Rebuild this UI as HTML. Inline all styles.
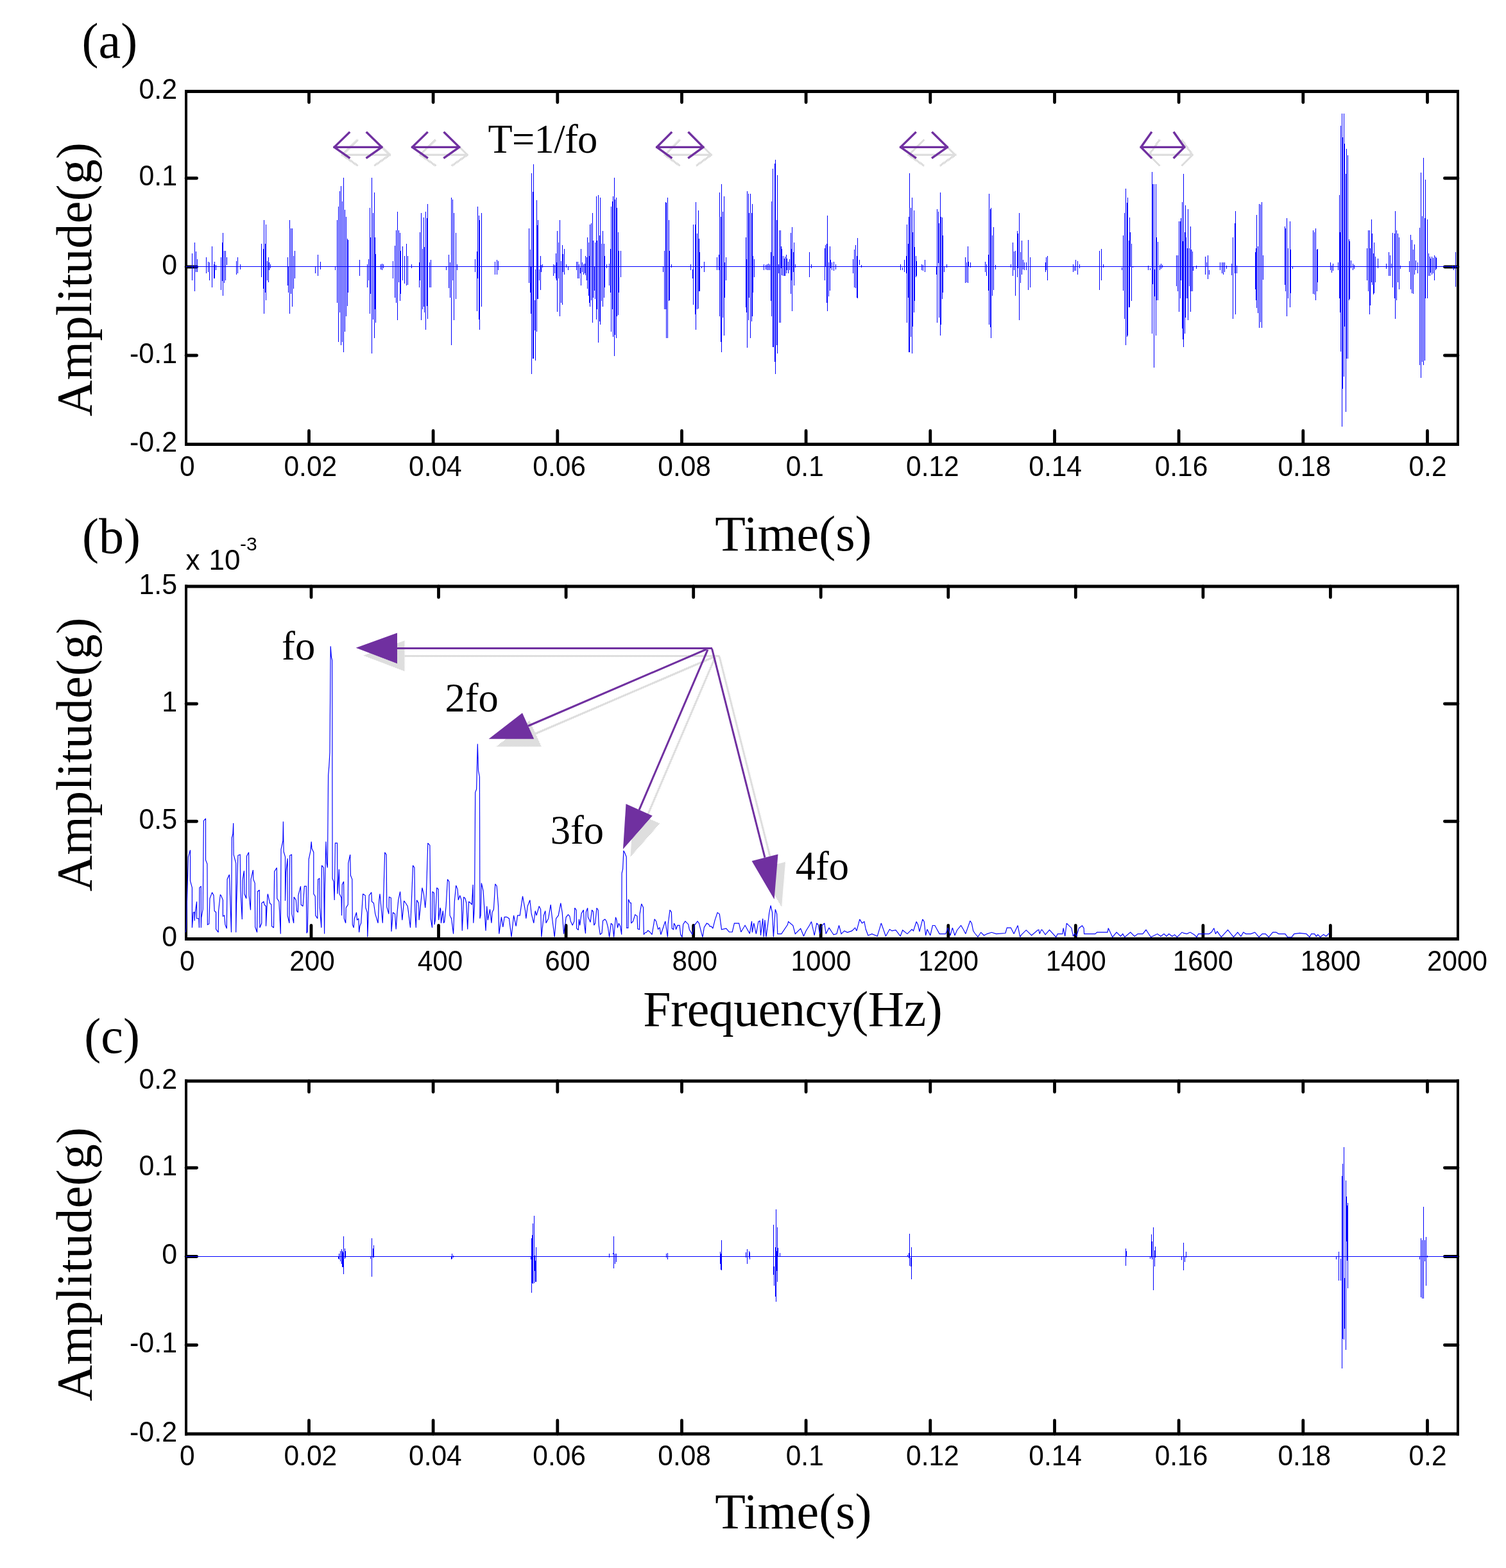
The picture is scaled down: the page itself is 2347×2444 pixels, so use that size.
<!DOCTYPE html>
<html><head><meta charset="utf-8"><title>Figure</title><style>html,body{margin:0;padding:0;background:#fff;overflow:hidden}svg{display:block}</style></head><body>
<svg width="2347" height="2444" viewBox="0 0 2347 2444">
<rect width="2347" height="2444" fill="#fff"/>
<defs><pattern id="ck" width="2" height="2" patternUnits="userSpaceOnUse"><rect width="1" height="1" fill="#bdbdbd"/><rect x="1" y="1" width="1" height="1" fill="#bdbdbd"/></pattern></defs>
<style>.tl{font-family:'Liberation Sans',Arial,sans-serif;font-size:44px;fill:#000} .ti{font-family:'Liberation Serif','Times New Roman',serif;font-size:78px;fill:#000} .an{font-family:'Liberation Serif','Times New Roman',serif;font-size:62.5px;fill:#000}</style>
<rect x="288" y="140.0" width="1986" height="5" fill="#000"/><rect x="288" y="690.0" width="1986" height="5" fill="#000"/><rect x="288" y="140.0" width="4" height="555.0" fill="#000"/><rect x="2270" y="140.0" width="4" height="555.0" fill="#000"/>
<rect x="288" y="911.5" width="1986" height="5" fill="#000"/><rect x="288" y="1461.0" width="1986" height="5" fill="#000"/><rect x="288" y="911.5" width="4" height="554.5" fill="#000"/><rect x="2270" y="911.5" width="4" height="554.5" fill="#000"/>
<rect x="288" y="1682.5" width="1986" height="5" fill="#000"/><rect x="288" y="2232.5" width="1986" height="5" fill="#000"/><rect x="288" y="1682.5" width="4" height="555.0" fill="#000"/><rect x="2270" y="1682.5" width="4" height="555.0" fill="#000"/>
<text class="tl" transform="translate(279.94,742.2) scale(0.965,1)">0</text>
<path d="M481.5,692.5V671.5M481.5,142.5V159.6" stroke="#000" stroke-width="4.8" stroke-linecap="round" fill="none"/>
<text class="tl" transform="translate(442.50,742.2) scale(0.965,1)">0.02</text>
<path d="M675.1,692.5V671.5M675.1,142.5V159.6" stroke="#000" stroke-width="4.8" stroke-linecap="round" fill="none"/>
<text class="tl" transform="translate(637.10,742.2) scale(0.965,1)">0.04</text>
<path d="M868.8,692.5V671.5M868.8,142.5V159.6" stroke="#000" stroke-width="4.8" stroke-linecap="round" fill="none"/>
<text class="tl" transform="translate(830.33,742.2) scale(0.965,1)">0.06</text>
<path d="M1062.5,692.5V671.5M1062.5,142.5V159.6" stroke="#000" stroke-width="4.8" stroke-linecap="round" fill="none"/>
<text class="tl" transform="translate(1025.31,742.2) scale(0.965,1)">0.08</text>
<path d="M1256.1,692.5V671.5M1256.1,142.5V159.6" stroke="#000" stroke-width="4.8" stroke-linecap="round" fill="none"/>
<text class="tl" transform="translate(1224.74,742.2) scale(0.965,1)">0.1</text>
<path d="M1449.8,692.5V671.5M1449.8,142.5V159.6" stroke="#000" stroke-width="4.8" stroke-linecap="round" fill="none"/>
<text class="tl" transform="translate(1412.10,742.2) scale(0.965,1)">0.12</text>
<path d="M1643.5,692.5V671.5M1643.5,142.5V159.6" stroke="#000" stroke-width="4.8" stroke-linecap="round" fill="none"/>
<text class="tl" transform="translate(1603.30,742.2) scale(0.965,1)">0.14</text>
<path d="M1837.1,692.5V671.5M1837.1,142.5V159.6" stroke="#000" stroke-width="4.8" stroke-linecap="round" fill="none"/>
<text class="tl" transform="translate(1799.63,742.2) scale(0.965,1)">0.16</text>
<path d="M2030.8,692.5V671.5M2030.8,142.5V159.6" stroke="#000" stroke-width="4.8" stroke-linecap="round" fill="none"/>
<text class="tl" transform="translate(1991.41,742.2) scale(0.965,1)">0.18</text>
<path d="M2224.5,692.5V671.5M2224.5,142.5V159.6" stroke="#000" stroke-width="4.8" stroke-linecap="round" fill="none"/>
<text class="tl" transform="translate(2195.51,742.2) scale(0.965,1)">0.2</text>
<text class="tl" transform="translate(276.0,154.2) scale(0.975,1)" text-anchor="end">0.2</text>
<path d="M290,277.75H306.6M2272,277.75H2251.4" stroke="#000" stroke-width="4.8" stroke-linecap="round" fill="none"/>
<text class="tl" transform="translate(276.0,289.4) scale(0.975,1)" text-anchor="end">0.1</text>
<path d="M290,416.00H306.6M2272,416.00H2251.4" stroke="#000" stroke-width="4.8" stroke-linecap="round" fill="none"/>
<text class="tl" transform="translate(276.0,427.7) scale(0.975,1)" text-anchor="end">0</text>
<path d="M290,554.00H306.6M2272,554.00H2251.4" stroke="#000" stroke-width="4.8" stroke-linecap="round" fill="none"/>
<text class="tl" transform="translate(276.0,565.7) scale(0.975,1)" text-anchor="end">-0.1</text>
<text class="tl" transform="translate(276.0,704.2) scale(0.975,1)" text-anchor="end">-0.2</text>
<text class="tl" transform="translate(279.94,2283.8) scale(0.965,1)">0</text>
<path d="M481.5,2235.0V2214.0M481.5,1685.0V1702.1" stroke="#000" stroke-width="4.8" stroke-linecap="round" fill="none"/>
<text class="tl" transform="translate(442.50,2283.8) scale(0.965,1)">0.02</text>
<path d="M675.1,2235.0V2214.0M675.1,1685.0V1702.1" stroke="#000" stroke-width="4.8" stroke-linecap="round" fill="none"/>
<text class="tl" transform="translate(637.10,2283.8) scale(0.965,1)">0.04</text>
<path d="M868.8,2235.0V2214.0M868.8,1685.0V1702.1" stroke="#000" stroke-width="4.8" stroke-linecap="round" fill="none"/>
<text class="tl" transform="translate(830.33,2283.8) scale(0.965,1)">0.06</text>
<path d="M1062.5,2235.0V2214.0M1062.5,1685.0V1702.1" stroke="#000" stroke-width="4.8" stroke-linecap="round" fill="none"/>
<text class="tl" transform="translate(1025.31,2283.8) scale(0.965,1)">0.08</text>
<path d="M1256.1,2235.0V2214.0M1256.1,1685.0V1702.1" stroke="#000" stroke-width="4.8" stroke-linecap="round" fill="none"/>
<text class="tl" transform="translate(1224.74,2283.8) scale(0.965,1)">0.1</text>
<path d="M1449.8,2235.0V2214.0M1449.8,1685.0V1702.1" stroke="#000" stroke-width="4.8" stroke-linecap="round" fill="none"/>
<text class="tl" transform="translate(1412.10,2283.8) scale(0.965,1)">0.12</text>
<path d="M1643.5,2235.0V2214.0M1643.5,1685.0V1702.1" stroke="#000" stroke-width="4.8" stroke-linecap="round" fill="none"/>
<text class="tl" transform="translate(1603.30,2283.8) scale(0.965,1)">0.14</text>
<path d="M1837.1,2235.0V2214.0M1837.1,1685.0V1702.1" stroke="#000" stroke-width="4.8" stroke-linecap="round" fill="none"/>
<text class="tl" transform="translate(1799.63,2283.8) scale(0.965,1)">0.16</text>
<path d="M2030.8,2235.0V2214.0M2030.8,1685.0V1702.1" stroke="#000" stroke-width="4.8" stroke-linecap="round" fill="none"/>
<text class="tl" transform="translate(1991.41,2283.8) scale(0.965,1)">0.18</text>
<path d="M2224.5,2235.0V2214.0M2224.5,1685.0V1702.1" stroke="#000" stroke-width="4.8" stroke-linecap="round" fill="none"/>
<text class="tl" transform="translate(2195.51,2283.8) scale(0.965,1)">0.2</text>
<text class="tl" transform="translate(276.0,1696.7) scale(0.975,1)" text-anchor="end">0.2</text>
<path d="M290,1820.25H306.6M2272,1820.25H2251.4" stroke="#000" stroke-width="4.8" stroke-linecap="round" fill="none"/>
<text class="tl" transform="translate(276.0,1832.0) scale(0.975,1)" text-anchor="end">0.1</text>
<path d="M290,1958.50H306.6M2272,1958.50H2251.4" stroke="#000" stroke-width="4.8" stroke-linecap="round" fill="none"/>
<text class="tl" transform="translate(276.0,1970.2) scale(0.975,1)" text-anchor="end">0</text>
<path d="M290,2096.50H306.6M2272,2096.50H2251.4" stroke="#000" stroke-width="4.8" stroke-linecap="round" fill="none"/>
<text class="tl" transform="translate(276.0,2108.2) scale(0.975,1)" text-anchor="end">-0.1</text>
<text class="tl" transform="translate(276.0,2246.7) scale(0.975,1)" text-anchor="end">-0.2</text>
<text class="tl" transform="translate(280.06,1513) scale(0.96,1)">0</text>
<path d="M485.0,1463.5V1442.5M485.0,914.0V931.1" stroke="#000" stroke-width="4.8" stroke-linecap="round" fill="none"/>
<text class="tl" transform="translate(451.37,1513) scale(0.96,1)">200</text>
<path d="M683.5,1463.5V1442.5M683.5,914.0V931.1" stroke="#000" stroke-width="4.8" stroke-linecap="round" fill="none"/>
<text class="tl" transform="translate(650.67,1513) scale(0.96,1)">400</text>
<path d="M882.1,1463.5V1442.5M882.1,914.0V931.1" stroke="#000" stroke-width="4.8" stroke-linecap="round" fill="none"/>
<text class="tl" transform="translate(849.17,1513) scale(0.96,1)">600</text>
<path d="M1080.7,1463.5V1442.5M1080.7,914.0V931.1" stroke="#000" stroke-width="4.8" stroke-linecap="round" fill="none"/>
<text class="tl" transform="translate(1047.47,1513) scale(0.96,1)">800</text>
<path d="M1279.2,1463.5V1442.5M1279.2,914.0V931.1" stroke="#000" stroke-width="4.8" stroke-linecap="round" fill="none"/>
<text class="tl" transform="translate(1232.58,1513) scale(0.96,1)">1000</text>
<path d="M1477.8,1463.5V1442.5M1477.8,914.0V931.1" stroke="#000" stroke-width="4.8" stroke-linecap="round" fill="none"/>
<text class="tl" transform="translate(1431.08,1513) scale(0.96,1)">1200</text>
<path d="M1676.3,1463.5V1442.5M1676.3,914.0V931.1" stroke="#000" stroke-width="4.8" stroke-linecap="round" fill="none"/>
<text class="tl" transform="translate(1629.78,1513) scale(0.96,1)">1400</text>
<path d="M1874.9,1463.5V1442.5M1874.9,914.0V931.1" stroke="#000" stroke-width="4.8" stroke-linecap="round" fill="none"/>
<text class="tl" transform="translate(1827.78,1513) scale(0.96,1)">1600</text>
<path d="M2073.4,1463.5V1442.5M2073.4,914.0V931.1" stroke="#000" stroke-width="4.8" stroke-linecap="round" fill="none"/>
<text class="tl" transform="translate(2026.68,1513) scale(0.96,1)">1800</text>
<text class="tl" transform="translate(2223.98,1513) scale(0.96,1)">2000</text>
<text class="tl" transform="translate(276.0,925.5) scale(0.975,1)" text-anchor="end">1.5</text>
<path d="M290,1097.00H306.6M2272,1097.00H2251.4" stroke="#000" stroke-width="4.8" stroke-linecap="round" fill="none"/>
<text class="tl" transform="translate(276.0,1108.7) scale(0.975,1)" text-anchor="end">1</text>
<path d="M290,1280.25H306.6M2272,1280.25H2251.4" stroke="#000" stroke-width="4.8" stroke-linecap="round" fill="none"/>
<text class="tl" transform="translate(276.0,1292.0) scale(0.975,1)" text-anchor="end">0.5</text>
<text class="tl" transform="translate(276.0,1475.2) scale(0.975,1)" text-anchor="end">0</text>
<text class="tl" x="289.5" y="887.6">x</text><text class="tl" x="325.5" y="887.6">10</text>
<text style="font-family:'Liberation Sans',Arial,sans-serif;font-size:30px" x="373.9" y="858.2">-3</text>
<path d="M290.0,415.5H2272.0M299.5,395V437M303.5,378V454M305.5,392V424M307.5,404V424M321.5,401V426M324.5,408V424M326.5,409V437M330.5,384V448M333.5,412V434M334.5,408V434M336.5,413V421M344.5,401V452M346.5,378V438M347.5,363V461M349.5,391V441M351.5,391V437M353.5,401V413M368.5,407V428M370.5,401V426M374.5,412V420M407.5,380V432M410.5,388V450M411.5,343V489M413.5,380V456M414.5,350V468M416.5,407V437M418.5,401V440M419.5,409V421M421.5,412V418M448.5,401V445M449.5,415V456M451.5,343V489M453.5,356V458M455.5,356V478M457.5,399V450M459.5,391V434M491.5,415V426M495.5,397V430M499.5,408V420M522.5,415V421M525.5,343V472M527.5,322V533M529.5,298V487M531.5,290V538M533.5,314V533M535.5,277V549M537.5,327V517M539.5,338V493M541.5,372V477M542.5,374V456M560.5,405V430M572.5,412V448M574.5,404V437M576.5,324V489M577.5,370V458M579.5,277V551M581.5,332V498M583.5,300V527M584.5,370V482M585.5,396V503M593.5,412V420M595.5,411V421M597.5,412V418M612.5,407V434M615.5,383V464M617.5,359V472M619.5,330V499M621.5,359V440M623.5,363V469M624.5,391V458M627.5,384V437M630.5,399V442M633.5,380V445M635.5,399V444M641.5,412V418M653.5,409V448M654.5,362V437M656.5,332V499M658.5,388V482M660.5,339V478M661.5,385V487M663.5,330V514M665.5,340V477M666.5,318V497M669.5,409V448M671.5,405V448M695.5,415V421M699.5,397V449M701.5,409V464M703.5,308V538M705.5,311V437M707.5,332V499M710.5,363V466M712.5,412V421M740.5,404V424M743.5,392V485M744.5,322V434M746.5,336V498M747.5,343V514M750.5,332V478M771.5,408V428M774.5,405V428M776.5,407V421M824.5,356V441M826.5,389V456M827.5,415V489M828.5,270V583M830.5,299V559M831.5,256V559M833.5,468V515M834.5,420V562M836.5,312V517M837.5,351V466M838.5,343V466M840.5,420V437M842.5,399V452M843.5,413V424M845.5,412V417M862.5,412V430M864.5,413V426M866.5,395V434M867.5,409V437M868.5,360V486M870.5,378V434M872.5,343V493M874.5,407V472M876.5,382V475M877.5,396V424M879.5,388V428M882.5,412V417M885.5,415V421M898.5,408V421M900.5,408V434M902.5,412V434M904.5,417V426M905.5,388V445M907.5,409V424M909.5,412V428M911.5,411V426M912.5,399V429M914.5,401V437M915.5,370V450M917.5,378V461M918.5,399V472M919.5,350V478M921.5,348V468M923.5,332V503M924.5,375V464M926.5,415V453M927.5,378V466M929.5,306V498M930.5,375V482M932.5,304V534M934.5,367V501M935.5,308V506M937.5,380V469M939.5,360V478M941.5,380V464M942.5,399V448M945.5,412V418M949.5,411V445M951.5,388V456M952.5,322V517M954.5,314V482M955.5,306V525M957.5,277V555M958.5,311V522M960.5,308V527M961.5,324V493M963.5,362V491M964.5,391V456M967.5,391V432M1033.5,415V424M1035.5,391V482M1037.5,315V482M1038.5,316V527M1040.5,308V527M1042.5,343V469M1043.5,391V468M1046.5,412V417M1076.5,412V421M1079.5,420V434M1080.5,350V475M1083.5,350V490M1084.5,315V514M1086.5,364V482M1088.5,328V481M1089.5,372V454M1090.5,393V454M1093.5,415V418M1097.5,408V424M1117.5,401V421M1120.5,397V421M1121.5,300V493M1123.5,338V533M1124.5,287V549M1126.5,330V495M1128.5,306V523M1129.5,409V464M1131.5,401V437M1162.5,370V479M1163.5,404V487M1164.5,298V542M1166.5,302V499M1167.5,332V464M1169.5,302V527M1171.5,332V501M1172.5,318V493M1173.5,399V456M1175.5,404V432M1190.5,412V421M1193.5,413V420M1195.5,412V421M1197.5,411V421M1199.5,412V421M1201.5,393V469M1202.5,314V493M1204.5,263V541M1205.5,399V541M1207.5,255V564M1208.5,249V583M1210.5,343V538M1211.5,273V551M1213.5,412V426M1214.5,359V503M1216.5,359V503M1217.5,384V418M1218.5,388V429M1220.5,399V430M1222.5,403V430M1223.5,400V430M1225.5,397V426M1226.5,403V421M1228.5,408V426M1230.5,404V421M1232.5,363V458M1233.5,388V437M1234.5,354V485M1236.5,393V424M1237.5,378V445M1239.5,412V417M1261.5,393V432M1264.5,412V418M1285.5,387V437M1286.5,382V416M1288.5,380V472M1289.5,336V485M1291.5,409V462M1293.5,384V453M1294.5,405V418M1296.5,409V421M1299.5,408V422M1302.5,412V420M1329.5,404V426M1331.5,389V448M1333.5,382V449M1335.5,399V464M1336.5,371V465M1339.5,405V413M1342.5,413V417M1403.5,412V421M1406.5,417V421M1409.5,405V424M1412.5,399V426M1413.5,350V503M1415.5,380V464M1416.5,338V549M1417.5,270V549M1419.5,324V525M1421.5,308V551M1422.5,362V509M1424.5,328V487M1425.5,385V469M1427.5,399V432M1428.5,407V430M1436.5,412V421M1438.5,413V422M1441.5,405V424M1459.5,415V428M1460.5,326V503M1462.5,330V410M1463.5,348V495M1465.5,300V523M1466.5,338V506M1468.5,339V466M1469.5,367V456M1471.5,415V424M1475.5,412V417M1504.5,401V441M1506.5,409V440M1508.5,384V441M1509.5,408V416M1512.5,409V417M1535.5,408V424M1537.5,412V430M1540.5,397V453M1541.5,302V506M1543.5,326V510M1544.5,324V527M1546.5,367V461M1548.5,354V452M1551.5,413V420M1575.5,412V417M1578.5,378V430M1580.5,392V421M1582.5,391V461M1585.5,360V432M1586.5,364V418M1588.5,332V499M1590.5,393V441M1592.5,375V428M1594.5,405V420M1596.5,409V421M1599.5,409V421M1602.5,374V452M1605.5,401V448M1629.5,409V424M1630.5,401V421M1632.5,399V437M1672.5,412V424M1674.5,416V422M1676.5,405V422M1679.5,407V428M1682.5,412V418M1713.5,391V452M1716.5,388V437M1719.5,412V417M1748.5,417V421M1750.5,367V453M1752.5,332V497M1754.5,294V538M1756.5,316V525M1757.5,308V523M1759.5,375V479M1760.5,339V479M1761.5,362V416M1763.5,380V469M1765.5,415V417M1789.5,414V421M1792.5,418V421M1795.5,268V520M1796.5,287V443M1798.5,287V573M1799.5,420V462M1801.5,287V523M1802.5,370V468M1804.5,377V468M1807.5,413V421M1809.5,411V419M1811.5,413V417M1833.5,398V446M1835.5,398V454M1837.5,345V486M1839.5,345V465M1840.5,340V437M1842.5,315V512M1843.5,376V529M1844.5,271V541M1846.5,362V520M1847.5,320V495M1848.5,370V465M1850.5,387V465M1851.5,326V499M1853.5,387V446M1855.5,353V486M1856.5,389V454M1858.5,392V454M1859.5,416V422M1864.5,414V419M1878.5,400V428M1880.5,409V415M1882.5,398V435M1884.5,421V428M1901.5,409V421M1904.5,409V426M1906.5,409V428M1908.5,409V424M1911.5,414V419M1919.5,411V429M1921.5,370V497M1924.5,348V426M1925.5,329V490M1927.5,414V426M1956.5,393V451M1957.5,387V468M1958.5,335V480M1960.5,384V488M1962.5,318V511M1964.5,319V502M1966.5,315V511M1968.5,398V436M2002.5,353V444M2003.5,356V454M2005.5,340V493M2007.5,387V465M2010.5,345V479M2011.5,389V457M2014.5,416V419M2046.5,359V458M2048.5,362V459M2050.5,356V468M2052.5,389V454M2053.5,388V440M2073.5,409V421M2075.5,414V425M2077.5,411V422M2085.5,409V421M2087.5,304V465M2088.5,362V487M2089.5,196V548M2091.5,177V665M2092.5,214V606M2094.5,177V587M2095.5,224V509M2097.5,271V642M2098.5,232V559M2100.5,242V559M2102.5,373V468M2103.5,376V466M2105.5,406V418M2108.5,411V421M2110.5,413V419M2130.5,387V437M2132.5,359V454M2134.5,359V490M2135.5,387V476M2137.5,342V440M2138.5,364V444M2140.5,395V459M2141.5,378V457M2143.5,400V440M2147.5,403V418M2160.5,411V419M2164.5,393V430M2166.5,398V430M2168.5,411V418M2170.5,363V448M2173.5,364V465M2174.5,329V497M2176.5,359V468M2178.5,364V440M2180.5,370V451M2182.5,414V419M2196.5,407V424M2198.5,366V451M2200.5,374V457M2202.5,389V458M2204.5,381V428M2206.5,406V421M2209.5,409V426M2212.5,355V569M2214.5,269V589M2216.5,337V564M2218.5,246V569M2220.5,340V562M2221.5,280V465M2224.5,342V465M2226.5,395V430M2228.5,400V430M2229.5,403V425M2231.5,400V428M2233.5,402V426M2235.5,398V437M2237.5,400V421M2238.5,402V419M2263.5,414V418M2265.5,416V421M2268.5,393V447" fill="none" stroke="#0000ff" stroke-width="1" stroke-linejoin="miter" stroke-miterlimit="2" shape-rendering="crispEdges"/>
<path d="M290.0,1958.5H2272.0M527.5,1959V1962M528.5,1954V1963M530.5,1950V1966M532.5,1947V1970M533.5,1950V1975M534.5,1952V1975M535.5,1927V1986M537.5,1946V1962M538.5,1950V1960M577.5,1959V1962M579.5,1959V1963M579.5,1930V1990M581.5,1946V1960M582.5,1941V1960M703.5,1959V1963M704.5,1954V1962M706.5,1957V1960M827.5,1959V1963M828.5,1930V2015M829.5,1925V2000M830.5,1907V2001M832.5,1895V2000M833.5,1957V1981M834.5,1965V1998M835.5,1944V1998M949.5,1954V1960M955.5,1953V1955M956.5,1927V1977M958.5,1954V1970M960.5,1954V1967M1038.5,1954V1960M1040.5,1953V1963M1122.5,1951V1970M1123.5,1954V1979M1124.5,1933V1980M1162.5,1952V1960M1164.5,1947V1970M1167.5,1950V1960M1168.5,1952V1963M1205.5,1909V1987M1206.5,1974V2004M1208.5,1944V2021M1209.5,1885V2029M1210.5,1950V1981M1211.5,1913V1998M1212.5,1945V1958M1215.5,1953V1959M1414.5,1956V1959M1416.5,1953V1961M1417.5,1923V1973M1419.5,1960V1974M1420.5,1944V1994M1754.5,1946V1973M1755.5,1950V1959M1792.5,1958V1962M1794.5,1924V1960M1795.5,1935V1963M1797.5,1913V2011M1799.5,1949V1974M1800.5,1943V1960M1841.5,1958V1964M1844.5,1937V1980M1846.5,1959V1967M1848.5,1951V1960M2082.5,1958V1963M2086.5,1951V1996M2089.5,1962V1996M2091.5,1833V2133M2092.5,1814V2087M2094.5,1788V2088M2095.5,1992V2071M2097.5,1840V2104M2098.5,1865V1935M2099.5,1879V1965M2100.5,1875V2008M2212.5,1958V1963M2214.5,1930V2022M2216.5,1933V2024M2218.5,1881V2024M2220.5,1933V1966M2222.5,1928V2004M2224.5,1957V1960" fill="none" stroke="#0000ff" stroke-width="1" stroke-linejoin="miter" stroke-miterlimit="2" shape-rendering="crispEdges"/>
<path d="M289.3,1453.2L290.3,1446.0L293.4,1335.7L296.5,1324.9L296.5,1372.9L299.4,1383.7L299.4,1446.0L301.3,1422.1L303.2,1422.1L303.2,1435.3L304.2,1422.1L306.6,1405.3L306.6,1431.7L309.9,1431.7L310.4,1446.0L310.9,1383.7L313.3,1381.3L313.3,1446.0L313.8,1430.5L316.2,1417.3L317.4,1279.4L320.5,1275.8L320.5,1340.5L322.9,1346.5L323.4,1441.2L325.8,1440.0L327.0,1400.5L330.6,1390.9L333.0,1395.7L334.2,1419.7L336.6,1422.1L336.6,1448.4L340.2,1453.2L340.6,1419.7L343.3,1394.5L344.5,1395.7L347.4,1402.9L347.4,1428.1L349.7,1426.9L350.9,1441.2L353.3,1447.2L354.1,1370.5L357.4,1363.3L360.5,1453.2L361.3,1305.8L362.9,1299.8L363.7,1283.0L364.1,1332.1L367.7,1345.3L367.7,1453.2L368.5,1411.3L370.9,1333.3L374.2,1332.1L374.9,1388.5L377.3,1432.9L378.0,1371.7L380.4,1357.3L380.9,1393.3L383.8,1400.5L384.5,1334.5L387.6,1328.5L388.1,1395.7L390.5,1418.5L391.0,1370.5L394.4,1356.1L394.8,1370.5L397.2,1376.5L397.7,1444.8L400.6,1453.2L401.3,1389.7L404.2,1387.3L404.9,1446.0L407.8,1438.8L407.8,1407.7L410.9,1405.3L412.1,1410.1L414.5,1412.5L414.5,1443.6L416.9,1395.7L417.4,1393.3L420.5,1407.7L422.9,1410.1L423.6,1443.6L426.5,1446.0L427.7,1358.5L431.3,1352.5L431.8,1400.5L434.9,1405.3L437.3,1455.6L438.0,1323.7L440.9,1310.6L441.4,1280.6L442.1,1327.3L444.5,1335.7L444.5,1404.1L445.7,1359.7L448.1,1338.1L448.1,1426.9L450.9,1438.8L451.7,1333.3L454.5,1332.1L454.8,1424.5L457.7,1438.8L458.1,1398.1L461.3,1402.9L462.5,1419.7L464.4,1422.1L464.9,1395.7L468.5,1381.3L469.2,1410.1L472.1,1412.5L474.4,1381.3L477.3,1381.3L478.0,1454.4L479.2,1452.0L481.2,1339.3L484.0,1326.1L485.2,1311.8L486.0,1322.5L488.8,1328.5L488.8,1393.3L491.2,1396.9L491.7,1426.9L494.8,1431.7L495.6,1370.5L497.9,1369.3L498.4,1414.9L500.8,1446.0L501.5,1348.9L504.4,1352.5L505.6,1455.6L506.1,1393.3L508.0,1311.8L509.2,1345.3L510.4,1352.5L511.6,1208.6L512.8,1194.2L514.0,1172.7L515.2,1007.2L516.4,1024.0L517.6,1028.8L518.1,1369.3L520.0,1374.1L521.2,1402.9L522.4,1314.1L525.5,1314.1L526.0,1393.3L528.4,1354.9L529.1,1393.3L532.0,1399.3L532.5,1426.9L533.2,1378.9L535.6,1374.1L536.3,1431.7L538.7,1438.8L539.2,1414.9L542.3,1410.1L542.8,1345.3L545.7,1332.1L546.4,1364.5L548.8,1370.5L549.3,1441.2L551.2,1446.0L552.4,1431.7L555.5,1422.1L556.5,1434.1L558.9,1431.7L559.6,1453.2L560.8,1443.6L562.7,1438.8L565.6,1393.3L569.2,1395.7L569.9,1414.9L572.3,1422.1L572.8,1460.4L575.2,1395.7L578.8,1390.9L579.5,1405.3L582.4,1407.7L584.8,1424.5L589.1,1438.8L590.8,1402.9L592.0,1393.3L596.3,1438.8L598.0,1386.1L599.7,1328.5L602.1,1332.1L602.8,1413.7L605.9,1424.5L606.4,1398.1L609.3,1399.3L610.0,1452.0L612.4,1422.1L615.5,1424.5L617.2,1448.4L618.8,1424.5L620.8,1402.9L623.6,1389.7L624.4,1400.5L626.8,1434.1L629.6,1404.1L632.3,1407.7L635.2,1412.5L636.4,1420.9L639.5,1446.0L641.2,1407.7L643.5,1348.9L645.9,1352.5L646.7,1419.7L648.3,1446.0L649.5,1402.9L652.4,1407.7L653.1,1434.1L656.3,1402.9L657.9,1383.7L660.3,1393.3L662.7,1414.9L664.4,1393.3L666.8,1314.1L669.9,1317.7L671.1,1431.7L673.5,1446.0L674.0,1389.7L676.4,1392.1L677.1,1441.2L678.3,1434.1L680.7,1383.7L683.1,1386.1L683.6,1434.1L686.0,1414.9L686.7,1417.3L687.4,1438.8L690.3,1419.7L691.5,1438.8L692.7,1436.5L695.1,1412.5L697.5,1370.5L699.9,1374.1L701.1,1426.9L703.5,1431.7L706.6,1455.6L708.3,1405.3L710.7,1380.1L713.1,1386.1L714.3,1402.9L716.7,1395.7L719.1,1402.9L720.3,1450.8L722.7,1398.1L725.1,1400.5L726.8,1407.7L728.7,1448.4L730.6,1405.3L733.5,1407.7L735.4,1410.1L737.1,1378.9L737.8,1438.8L739.5,1412.5L740.7,1235.0L742.6,1230.2L744.3,1159.5L745.5,1201.4L747.4,1211.0L747.9,1431.7L749.1,1426.9L750.3,1376.5L753.1,1388.5L754.6,1412.5L757.0,1450.8L758.7,1412.5L760.3,1434.1L763.5,1417.3L765.9,1438.8L767.1,1422.1L769.4,1417.3L771.8,1377.7L774.2,1381.3L776.6,1412.5L777.8,1455.6L781.4,1429.3L783.8,1444.8L786.2,1429.3L789.8,1429.3L793.4,1431.7L797.0,1460.4L800.6,1426.9L804.2,1443.6L806.6,1426.9L810.2,1426.9L814.5,1396.9L816.9,1410.1L818.6,1419.7L819.8,1431.7L822.2,1412.5L825.8,1402.9L828.2,1424.5L831.8,1438.8L834.2,1419.7L836.1,1426.9L840.2,1412.5L842.6,1417.3L843.8,1460.4L847.4,1426.9L849.8,1419.7L851.0,1438.8L854.6,1431.7L858.2,1410.1L860.6,1431.7L864.2,1460.4L866.6,1431.7L870.2,1426.9L873.8,1407.7L876.2,1422.1L878.6,1455.6L882.2,1429.6L885.4,1425.6L887.8,1428.0L889.3,1435.9L892.2,1442.3L894.9,1435.9L895.7,1415.2L898.1,1418.4L898.6,1447.1L901.3,1449.5L902.4,1432.7L903.7,1442.3L906.1,1424.0L909.3,1418.4L910.4,1439.1L912.5,1455.1L913.3,1421.6L915.7,1415.2L916.4,1429.6L918.8,1434.3L920.0,1437.5L922.5,1418.4L924.4,1420.8L925.7,1442.3L927.6,1439.1L930.0,1415.2L932.1,1418.4L933.2,1442.3L935.3,1456.7L938.0,1454.3L939.6,1435.1L942.8,1432.7L945.1,1435.9L947.5,1445.5L949.6,1460.6L952.3,1439.1L954.7,1441.5L956.6,1460.6L959.5,1429.6L961.1,1434.3L962.4,1446.3L964.3,1439.1L966.7,1443.9L968.7,1456.7L969.1,1361.0L970.6,1354.6L971.9,1325.9L973.5,1329.1L976.2,1335.5L976.7,1446.3L978.9,1446.3L979.4,1401.7L981.8,1407.2L983.4,1407.2L983.7,1439.1L986.6,1435.9L989.8,1425.6L993.0,1428.0L993.8,1447.9L996.5,1448.7L997.0,1424.8L999.7,1408.8L1002.5,1414.4L1003.3,1456.7L1005.7,1453.5L1007.3,1453.5L1009.7,1450.3L1012.1,1451.9L1016.1,1456.7L1020.1,1432.7L1022.5,1435.9L1025.6,1448.7L1028.0,1445.5L1029.9,1456.7L1033.6,1445.5L1036.8,1435.9L1040.5,1460.6L1041.1,1440.7L1044.0,1418.4L1046.4,1421.6L1047.2,1447.1L1049.6,1448.7L1050.4,1439.1L1052.7,1443.1L1053.5,1448.7L1055.9,1442.3L1059.1,1442.3L1060.7,1456.7L1063.1,1460.6L1064.7,1440.7L1067.9,1435.9L1072.7,1440.7L1074.3,1448.7L1079.0,1456.7L1082.2,1442.3L1087.0,1435.9L1089.4,1439.1L1093.4,1455.1L1095.0,1460.6L1097.4,1445.5L1101.4,1439.1L1104.6,1440.7L1106.1,1443.9L1108.5,1443.9L1110.9,1447.1L1114.1,1434.3L1118.1,1422.4L1121.3,1424.8L1124.5,1448.7L1131.7,1447.1L1136.4,1452.7L1141.2,1452.7L1144.4,1439.1L1151.6,1439.1L1154.8,1452.7L1161.1,1442.3L1168.3,1455.1L1171.5,1435.9L1172.4,1453.3L1174.8,1438.9L1178.4,1455.6L1182.0,1436.5L1184.3,1435.3L1185.5,1458.0L1188.7,1431.7L1190.3,1460.4L1192.0,1434.1L1193.9,1460.4L1196.3,1443.7L1198.7,1423.4L1201.1,1411.4L1203.5,1422.2L1205.4,1460.4L1208.3,1417.4L1210.7,1424.6L1211.8,1455.6L1217.8,1455.6L1227.4,1441.3L1228.6,1436.5L1235.8,1442.5L1239.3,1455.6L1247.7,1447.3L1252.5,1459.2L1256.1,1450.9L1262.1,1441.3L1264.5,1436.5L1269.2,1458.0L1272.8,1438.9L1275.2,1441.3L1277.6,1455.6L1280.0,1443.7L1284.8,1438.9L1287.2,1455.6L1292.0,1446.1L1296.7,1453.3L1299.1,1456.8L1303.9,1455.6L1307.5,1442.5L1311.1,1455.6L1315.9,1450.9L1320.6,1453.3L1327.8,1450.9L1332.6,1446.1L1335.0,1450.9L1339.8,1432.9L1343.4,1438.9L1346.9,1436.5L1349.3,1448.5L1352.9,1458.0L1358.9,1455.6L1367.3,1459.2L1373.3,1438.9L1380.4,1459.2L1386.4,1448.5L1390.0,1450.9L1396.0,1449.7L1403.1,1459.2L1406.7,1449.7L1413.9,1455.6L1421.1,1448.5L1423.5,1450.9L1428.2,1436.5L1430.6,1441.3L1433.0,1452.1L1437.8,1432.9L1440.2,1436.5L1442.6,1458.0L1445.0,1448.5L1449.8,1458.0L1453.4,1442.5L1456.9,1442.5L1464.1,1455.6L1468.9,1455.6L1473.7,1455.6L1477.3,1446.1L1480.9,1458.0L1484.4,1446.1L1488.0,1458.0L1491.6,1449.7L1497.6,1442.5L1501.2,1448.5L1504.8,1455.6L1511.9,1435.3L1514.3,1438.9L1516.7,1450.9L1519.1,1454.5L1523.9,1460.4L1528.7,1453.3L1533.5,1458.0L1538.2,1455.6L1545.4,1453.3L1552.6,1455.6L1566.9,1454.5L1569.3,1446.1L1575.3,1446.1L1580.1,1455.6L1586.1,1442.5L1589.7,1460.4L1592.0,1456.8L1599.2,1449.7L1607.6,1458.0L1617.2,1449.7L1618.9,1449.3L1620.2,1455.6L1622.8,1449.3L1624.0,1449.3L1629.1,1456.9L1635.5,1449.3L1645.7,1460.7L1648.3,1455.6L1655.9,1455.6L1657.2,1446.7L1659.7,1459.5L1662.3,1439.1L1664.8,1441.6L1669.9,1446.7L1672.5,1459.5L1675.0,1454.4L1677.6,1459.5L1681.4,1446.7L1686.5,1442.9L1689.1,1446.7L1689.6,1455.6L1706.9,1455.6L1709.5,1453.1L1726.0,1453.1L1727.3,1446.7L1733.7,1460.7L1740.1,1453.1L1746.4,1459.5L1749.8,1455.6L1752.8,1460.7L1761.7,1453.1L1768.1,1459.5L1773.2,1455.6L1780.9,1455.6L1786.0,1449.3L1793.6,1460.7L1803.8,1455.6L1808.9,1459.5L1814.0,1455.6L1817.9,1459.5L1821.7,1455.6L1826.8,1459.5L1830.6,1456.9L1834.4,1460.7L1842.1,1453.1L1844.6,1454.4L1849.7,1455.6L1854.8,1453.1L1861.2,1456.9L1865.0,1460.7L1867.6,1455.6L1884.2,1455.6L1888.0,1453.1L1891.8,1446.7L1894.4,1455.6L1896.9,1451.8L1903.3,1460.7L1913.5,1449.3L1922.4,1460.7L1928.8,1453.1L1933.9,1459.5L1937.7,1453.1L1941.5,1455.6L1949.2,1455.6L1955.6,1453.1L1962.0,1460.7L1967.1,1455.6L1972.2,1455.6L1977.3,1460.7L1983.6,1453.1L1988.7,1453.1L1992.6,1455.6L2002.8,1455.6L2006.6,1460.7L2013.0,1460.7L2016.8,1455.6L2025.7,1454.4L2035.9,1455.6L2041.0,1460.7L2043.6,1455.6L2048.7,1455.6L2051.2,1459.5L2053.8,1456.9L2057.6,1460.7L2062.7,1456.4L2066.5,1459.5L2071.6,1454.4" fill="none" stroke="#0000ff" stroke-width="1.15" stroke-linejoin="miter" stroke-miterlimit="2"/>
<text class="ti" x="1114.3" y="858">Time(s)</text>
<text class="ti" x="1002.2" y="1598.6" textLength="466.6" lengthAdjust="spacing">Frequency(Hz)</text>
<text class="ti" x="1114.3" y="2382.1">Time(s)</text>
<text class="ti" transform="translate(142.3,649.0) rotate(-90)" x="0" y="0" textLength="427" lengthAdjust="spacing">Amplitude(g)</text>
<text class="ti" transform="translate(142.3,1389.4) rotate(-90)" x="0" y="0" textLength="427" lengthAdjust="spacing">Amplitude(g)</text>
<text class="ti" transform="translate(142.3,2184.1) rotate(-90)" x="0" y="0" textLength="427" lengthAdjust="spacing">Amplitude(g)</text>
<text class="ti" x="127.6" y="90">(a)</text>
<text class="ti" x="128" y="861.5">(b)</text>
<text class="ti" x="131.3" y="1641.4">(c)</text>
<text class="an" x="760.5" y="237.7" textLength="170.8" lengthAdjust="spacing">T=1/fo</text>
<text class="an" x="439.1" y="1028">fo</text>
<text class="an" x="693.5" y="1109.2">2fo</text>
<text class="an" x="857.7" y="1314.7">3fo</text>
<text class="an" x="1239.8" y="1371.2">4fo</text>
<path d="M556.5,218.8L533.4,241.4L556.5,257.6M533.4,241.4L607.5,241.4M584.4,218.8L607.5,241.4L584.4,257.6" fill="none" stroke="url(#ck)" stroke-width="3.2" stroke-linejoin="round" stroke-linecap="square"/>
<path d="M678.0,218.8L654.9,241.4L678.0,257.6M654.9,241.4L728.3,241.4M705.2,218.8L728.3,241.4L705.2,257.6" fill="none" stroke="url(#ck)" stroke-width="3.2" stroke-linejoin="round" stroke-linecap="square"/>
<path d="M1058.5,218.8L1036.1,241.4L1058.5,257.6M1036.1,241.4L1108.5,241.4M1086.1,218.8L1108.5,241.4L1086.1,257.6" fill="none" stroke="url(#ck)" stroke-width="3.2" stroke-linejoin="round" stroke-linecap="square"/>
<path d="M1439.0,218.8L1416.0,241.4L1439.0,257.6M1416.0,241.4L1488.9,241.4M1465.9,218.8L1488.9,241.4L1465.9,257.6" fill="none" stroke="url(#ck)" stroke-width="3.2" stroke-linejoin="round" stroke-linecap="square"/>
<path d="M1806.5,218.8L1790.6,241.4L1806.5,257.6M1790.6,241.4L1858.3,241.4M1842.4,218.8L1858.3,241.4L1842.4,257.6" fill="none" stroke="url(#ck)" stroke-width="3.2" stroke-linejoin="round" stroke-linecap="square"/>
<path d="M544.0,206.8L520.9,229.4L544.0,245.6M520.9,229.4L595.0,229.4M571.9,206.8L595.0,229.4L571.9,245.6" fill="none" stroke="#7030a0" stroke-width="3.4" stroke-linejoin="round" stroke-linecap="square"/>
<path d="M665.5,206.8L642.4,229.4L665.5,245.6M642.4,229.4L715.8,229.4M692.7,206.8L715.8,229.4L692.7,245.6" fill="none" stroke="#7030a0" stroke-width="3.4" stroke-linejoin="round" stroke-linecap="square"/>
<path d="M1046.0,206.8L1023.6,229.4L1046.0,245.6M1023.6,229.4L1096.0,229.4M1073.6,206.8L1096.0,229.4L1073.6,245.6" fill="none" stroke="#7030a0" stroke-width="3.4" stroke-linejoin="round" stroke-linecap="square"/>
<path d="M1426.5,206.8L1403.5,229.4L1426.5,245.6M1403.5,229.4L1476.4,229.4M1453.4,206.8L1476.4,229.4L1453.4,245.6" fill="none" stroke="#7030a0" stroke-width="3.4" stroke-linejoin="round" stroke-linecap="square"/>
<path d="M1794.0,206.8L1778.1,229.4L1794.0,245.6M1778.1,229.4L1845.8,229.4M1829.9,206.8L1845.8,229.4L1829.9,245.6" fill="none" stroke="#7030a0" stroke-width="3.4" stroke-linejoin="round" stroke-linecap="square"/>
<path d="M1121.5,1022.4L630.5,1022.4" stroke="url(#ck)" stroke-width="3" fill="none"/><path d="M566.2,1021.7L630.5,998.5L630.5,1046.3Z" fill="url(#ck)"/>
<path d="M1112.5,1024.0L834.6,1143.5" stroke="url(#ck)" stroke-width="3" fill="none"/><path d="M773.1,1163.8L825.5,1123.2L843.7,1163.8Z" fill="url(#ck)"/>
<path d="M1114.5,1024.5L1007.6,1274.3" stroke="url(#ck)" stroke-width="3" fill="none"/><path d="M982.5,1335.4L987.0,1265.0L1028.2,1283.6Z" fill="url(#ck)"/>
<path d="M1121.0,1023.0L1203.5,1348.7" stroke="url(#ck)" stroke-width="3" fill="none"/><path d="M1218.1,1413.8L1183.1,1354.0L1224.0,1343.4Z" fill="url(#ck)"/>
<path d="M1110.0,1010.4L619.0,1010.4" stroke="#7030a0" stroke-width="3" fill="none"/><path d="M554.7,1009.7L619.0,986.5L619.0,1034.3Z" fill="#7030a0"/>
<path d="M1101.0,1012.0L823.1,1131.5" stroke="#7030a0" stroke-width="3" fill="none"/><path d="M761.6,1151.8L814.0,1111.2L832.2,1151.8Z" fill="#7030a0"/>
<path d="M1103.0,1012.5L996.1,1262.3" stroke="#7030a0" stroke-width="3" fill="none"/><path d="M971.0,1323.4L975.5,1253.0L1016.7,1271.6Z" fill="#7030a0"/>
<path d="M1109.5,1011.0L1192.0,1336.7" stroke="#7030a0" stroke-width="3" fill="none"/><path d="M1206.6,1401.8L1171.6,1342.0L1212.5,1331.4Z" fill="#7030a0"/>
</svg>
</body></html>
